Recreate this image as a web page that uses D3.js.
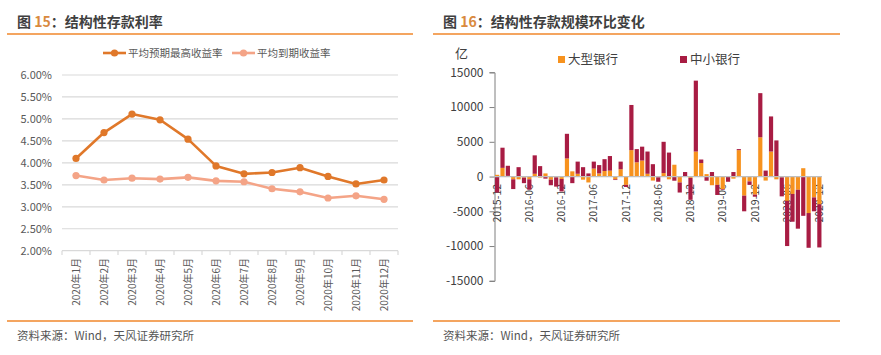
<!DOCTYPE html>
<html><head><meta charset="utf-8">
<script src="https://cdn.jsdelivr.net/npm/d3@7/dist/d3.min.js"></script>
<style>
body{margin:0;background:#fff;}
svg{display:block;font-family:"Noto Sans CJK SC","Noto Sans",sans-serif;}
</style></head>
<body>
<svg id="c" width="881" height="355"></svg>
<script>
// ---------- Left chart data ----------
const months2020 = ["2020年1月","2020年2月","2020年3月","2020年4月","2020年5月","2020年6月","2020年7月","2020年8月","2020年9月","2020年10月","2020年11月","2020年12月"];
const expectedMaxYield = [4.10,4.69,5.11,4.98,4.54,3.93,3.75,3.78,3.89,3.69,3.52,3.61];
const maturityYield = [3.71,3.61,3.65,3.63,3.67,3.59,3.57,3.41,3.34,3.20,3.25,3.17];
const leftYTicks = [2.0,2.5,3.0,3.5,4.0,4.5,5.0,5.5,6.0];
const leftSeriesNames = ["平均预期最高收益率","平均到期收益率"];

// ---------- Right chart data ----------
const months = ["2015-12","2016-01","2016-02","2016-03","2016-04","2016-05","2016-06","2016-07","2016-08","2016-09","2016-10","2016-11","2016-12",
"2017-01","2017-02","2017-03","2017-04","2017-05","2017-06","2017-07","2017-08","2017-09","2017-10","2017-11","2017-12",
"2018-01","2018-02","2018-03","2018-04","2018-05","2018-06","2018-07","2018-08","2018-09","2018-10","2018-11","2018-12",
"2019-01","2019-02","2019-03","2019-04","2019-05","2019-06","2019-07","2019-08","2019-09","2019-10","2019-11","2019-12",
"2020-01","2020-02","2020-03","2020-04","2020-05","2020-06","2020-07","2020-08","2020-09","2020-10","2020-11","2020-12"];
const largeBanks = [250,1250,100,-400,-400,-150,-400,400,-150,450,-450,-100,-350,
2600,750,400,-450,-850,1150,450,800,850,-400,1050,-1200,
3800,2050,2300,400,-580,-100,500,-400,1700,-850,50,-200,
3600,1950,350,-1250,-1200,-1800,-50,-300,3800,-2750,-700,-2600,
5650,-580,3600,-400,-100,-3500,-2500,-1900,1200,-5250,-3000,-4000];
const smallBanks = [-2300,2900,1450,-1400,1350,-800,-1500,2650,1500,-300,-800,-1350,-1800,
3550,-950,1750,1350,450,1000,1200,1700,2100,-100,1100,-300,
6500,1900,2000,3200,1780,-650,4500,3450,-600,-1450,600,-3150,
10200,500,-600,650,-1450,-100,-700,650,150,-2250,-500,-300,
6350,860,5050,5200,-2750,-6500,-4000,-5600,-5650,-5000,-2000,-6200];
const rightYTicks = [-15000,-10000,-5000,0,5000,10000,15000];
const rightXTickLabels = ["2015-12","2016-06","2016-12","2017-06","2017-12","2018-06","2018-12","2019-06","2019-12","2020-06","2020-12"];
const rightSeriesNames = ["大型银行","中小银行"];

const svg = d3.select("#c");
const orangeRule = "#F0872B";
const titleGray = "#3F3F3F";

// ---------- Headers / footers ----------
function header(x, num, rest, lineX1, lineX2){
  const t = svg.append("text").attr("x",x).attr("y",27).attr("font-size",14).attr("font-weight","bold").attr("fill",titleGray);
  t.append("tspan").text("图 ");
  t.append("tspan").attr("fill","#D98A3E").text(num);
  t.append("tspan").text("：" + rest);
  svg.append("line").attr("x1",lineX1).attr("x2",lineX2).attr("y1",34).attr("y2",34).attr("stroke",orangeRule).attr("stroke-width",1.3);
  svg.append("line").attr("x1",lineX1).attr("x2",lineX2).attr("y1",321).attr("y2",321).attr("stroke",orangeRule).attr("stroke-width",1.3);
  svg.append("text").attr("x",x).attr("y",340).attr("font-size",11.5).attr("fill","#555").text("资料来源：Wind，天风证券研究所");
}
header(17,"15","结构性存款利率",7,413);
header(443,"16","结构性存款规模环比变化",433,840);

// ---------- Left line chart ----------
const lx = d3.scaleBand().domain(months2020).range([62,398]);
const ly = d3.scaleLinear().domain([2,6]).range([250.7,75]);
const lg = svg.append("g");
lg.selectAll("line.grid").data(leftYTicks).join("line").attr("class","grid")
  .attr("x1",62).attr("x2",398).attr("y1",d=>ly(d)).attr("y2",d=>ly(d))
  .attr("stroke","#D9D9D9").attr("stroke-width",1.2);
const lYAxis = d3.axisLeft(ly).tickValues(leftYTicks).tickFormat(d=>d.toFixed(2)+"%").tickSize(0).tickPadding(10);
const lya = lg.append("g").attr("transform","translate(62,0)").call(lYAxis);
lya.select(".domain").remove();
lya.selectAll("text").attr("font-size",11).attr("fill","#595959").attr("font-family","'Noto Sans CJK SC',sans-serif");
const bounds = months2020.map(m=>lx(m)).concat([398]);
lg.selectAll("line.xt").data(bounds).join("line").attr("class","xt")
  .attr("x1",d=>d).attr("x2",d=>d).attr("y1",250.7).attr("y2",255).attr("stroke","#D9D9D9").attr("stroke-width",1.2);
lg.selectAll("text.xl").data(months2020).join("text").attr("class","xl")
  .attr("transform",d=>`translate(${lx(d)+lx.bandwidth()/2},258) rotate(-90)`)
  .attr("text-anchor","end").attr("dy","0.35em").attr("font-size",10).attr("fill","#595959").text(d=>d);
const lineGen = d3.line().x((d,i)=>lx(months2020[i])+lx.bandwidth()/2).y(d=>ly(d));
const lColors = ["#E0782A","#F4A487"];
[[maturityYield,lColors[1]],[expectedMaxYield,lColors[0]]].forEach(([s,col])=>{
  lg.append("path").datum(s).attr("d",lineGen).attr("fill","none").attr("stroke",col).attr("stroke-width",2.6).attr("stroke-linejoin","round");
  lg.selectAll(null).data(s).join("circle").attr("cx",(d,i)=>lx(months2020[i])+lx.bandwidth()/2).attr("cy",d=>ly(d)).attr("r",3.6).attr("fill",col);
});
const legItems = [{x:103,name:leftSeriesNames[0],c:lColors[0]},{x:232,name:leftSeriesNames[1],c:lColors[1]}];
legItems.forEach(it=>{
  svg.append("line").attr("x1",it.x).attr("x2",it.x+23).attr("y1",53).attr("y2",53).attr("stroke",it.c).attr("stroke-width",2.6);
  svg.append("circle").attr("cx",it.x+11.5).attr("cy",53).attr("r",3.6).attr("fill",it.c);
  svg.append("text").attr("x",it.x+25).attr("y",53).attr("dy","0.35em").attr("font-size",10.5).attr("fill","#595959").text(it.name);
});

// ---------- Right bar chart ----------
const rx = d3.scaleBand().domain(months).range([494.5,822]).paddingInner(0.22).paddingOuter(0.1);
const ry = d3.scaleLinear().domain([-15000,15000]).range([280.8,72.3]);
const rg = svg.append("g");
const rYAxis = d3.axisLeft(ry).tickValues(rightYTicks).tickSize(5).tickPadding(6).tickFormat(d=>String(d));
const rya = rg.append("g").attr("transform","translate(494.5,0)").call(rYAxis);
rya.select(".domain").attr("stroke","#7F7F7F");
rya.selectAll(".tick line").attr("stroke","#7F7F7F");
rya.selectAll("text").attr("font-size",12).attr("fill","#404040").attr("font-family","'Noto Sans CJK SC',sans-serif");
rg.selectAll("text.xl").data(rightXTickLabels).join("text").attr("class","xl")
  .attr("transform",d=>`translate(${rx(d)+rx.bandwidth()/2},184) rotate(-90)`)
  .attr("text-anchor","end").attr("dy","0.35em").attr("font-size",10.5).attr("fill","#404040").text(d=>d);
const rows = months.map((m,i)=>({m, large:largeBanks[i], small:smallBanks[i]}));
const stack = d3.stack().keys(["large","small"]).offset(d3.stackOffsetDiverging)(rows);
const rColors = {large:"#F7921E", small:"#A81C43"};
stack.forEach(layer=>{
  rg.selectAll(null).data(layer).join("rect")
    .attr("x",d=>rx(d.data.m)).attr("width",rx.bandwidth())
    .attr("y",d=>ry(Math.max(d[0],d[1]))).attr("height",d=>Math.abs(ry(d[0])-ry(d[1])))
    .attr("fill",rColors[layer.key]);
});
rg.append("line").attr("x1",494.5).attr("x2",822).attr("y1",ry(0)).attr("y2",ry(0)).attr("stroke","#BFBFBF").attr("stroke-width",1.2);
svg.append("text").attr("x",455).attr("y",58).attr("font-size",13).attr("fill","#404040").text("亿");
const rLeg = [{x:558,name:rightSeriesNames[0],c:rColors.large},{x:680,name:rightSeriesNames[1],c:rColors.small}];
rLeg.forEach(it=>{
  svg.append("rect").attr("x",it.x).attr("y",56).attr("width",7).attr("height",7).attr("fill",it.c);
  svg.append("text").attr("x",it.x+10).attr("y",60).attr("dy","0.35em").attr("font-size",12.5).attr("fill","#404040").text(it.name);
});
</script>
</body></html>
